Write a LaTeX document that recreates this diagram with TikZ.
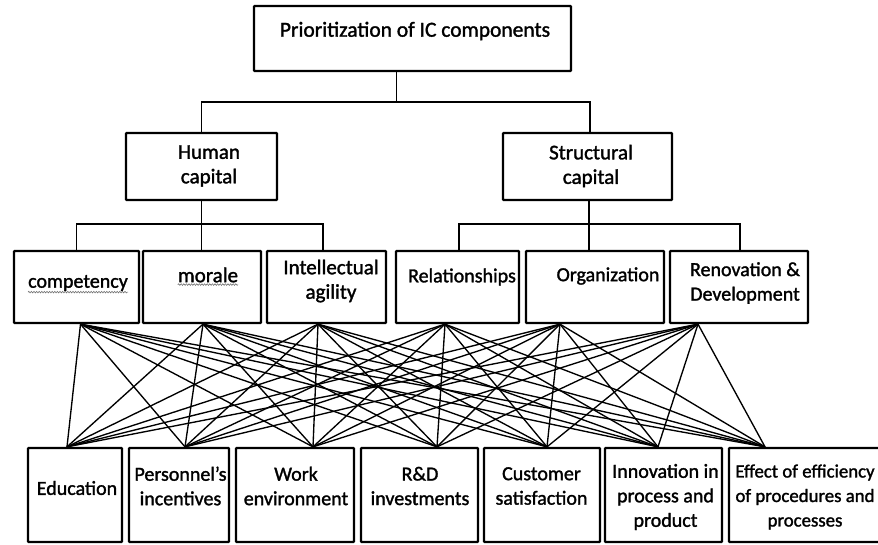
\documentclass[tikz,border=0pt]{standalone}
\usepackage{fontspec}
\setmainfont{Carlito}[FakeBold=1.5]
\usetikzlibrary{decorations.pathmorphing}
\begin{document}
\begin{tikzpicture}[x=1pt,y=-1pt,
  box/.style={draw=black,line width=2.3pt,rounded corners=0.8pt,inner sep=0pt},
  txt/.style={font=\fontsize{20}{24.5}\selectfont,align=center,inner sep=0pt},
  bigtxt/.style={font=\fontsize{21}{24.5}\selectfont,align=center,inner sep=0pt},
  conn/.style={draw=black,line width=1.35pt},
  tree/.style={draw=black,line width=1.7pt},
  wavy/.style={draw=black!55,line width=0.6pt,decorate,decoration={snake,amplitude=0.8pt,segment length=2.6pt}}]
\useasboundingbox (0,0) rectangle (878,544);
\begin{scope}
\clip (0,0) rectangle (878,544);
% top
\node (top) [box,minimum width=317pt,minimum height=65pt] at (412.5,38.5) {};
\node[font=\fontsize{21.5}{25}\selectfont,inner sep=0pt] at (415,31) {Prioritization of IC components};
% level 1
\node (hum) [box,minimum width=151pt,minimum height=67pt] at (201.5,166.5) {};
\node[bigtxt] at (209,166) {Human\\capital};
\node (str) [box,minimum width=169pt,minimum height=67pt] at (587.5,166.5) {};
\node[bigtxt] at (591,166) {Structural\\capital};
% level 2
\node (comp) [box,minimum width=125pt,minimum height=72pt] at (76.5,287) {};
\node[txt] (tcomp) at (78,283) {competency};
\node (mor) [box,minimum width=118pt,minimum height=72pt] at (202,287) {};
\node[bigtxt] (tmor) at (208,275) {morale};
\node (int) [box,minimum width=119pt,minimum height=72pt] at (326.5,287) {};
\node[bigtxt] at (331,281) {Intellectual\\agility};
\node (rel) [box,minimum width=123pt,minimum height=72pt] at (457.5,287) {};
\node[txt] at (462,277) {Relationships};
\node (org) [box,minimum width=138pt,minimum height=72pt] at (595,287) {};
\node[txt] at (608,276) {Organization};
\node (ren) [box,minimum width=138pt,minimum height=72pt] at (739,287) {};
\node[txt] at (745,283) {Renovation \&\\Development};
\draw[wavy] ([yshift=-1pt]tcomp.south west) -- ([yshift=-1pt]tcomp.south east);
\draw[wavy] ([yshift=-2pt]tmor.south west) -- ([yshift=-2pt]tmor.south east);
% level 3
\node (edu) [box,minimum width=94pt,minimum height=94pt] at (75,495) {};
\node[txt] at (77,488) {Education};
\node (per) [box,minimum width=100pt,minimum height=94pt] at (179,495) {};
\node[txt] at (180.5,486) {Personnel’s\\incentives};
\node (wrk) [box,minimum width=118pt,minimum height=94pt] at (295,495) {};
\node[txt] at (296,486) {Work\\environment};
\node (rd) [box,minimum width=117pt,minimum height=94pt] at (419.5,495) {};
\node[txt] at (420,486) {R\&D\\investments};
\node (cus) [box,minimum width=116pt,minimum height=94pt] at (542,495) {};
\node[txt] at (541.5,486) {Customer\\satisfaction};
\node (inn) [box,minimum width=117pt,minimum height=94pt] at (663.5,495) {};
\node[txt] at (665.5,497) {Innovation in\\process and\\product};
\node (eff) [box,minimum width=160pt,minimum height=94pt] at (809,495) {};
\node[font=\fontsize{18.8}{24.5}\selectfont,align=center,inner sep=0pt] at (805,497) {Effect of efficiency\\of procedures and\\processes};
\end{scope}
% tree connectors
\coordinate (t0) at ([xshift=-16pt]top.south);
\coordinate (j0) at ([yshift=-30pt]t0);
\draw[tree] (t0) -- (j0);
\draw[tree] (hum.north) |- (j0) -| ([xshift=2.5pt]str.north);
\coordinate (j1) at ([yshift=-23pt]hum.south);
\draw[tree] (hum.south) -- (mor.north -| hum.south);
\draw[tree] (comp.north) |- (j1) -| ([xshift=-3.5pt]int.north);
\coordinate (s0) at ([xshift=1.5pt]str.south);
\coordinate (j2) at ([yshift=-23pt]s0);
\draw[tree] (s0) -- (org.north -| s0);
\draw[tree] ([xshift=1.5pt]rel.north) |- (j2) -| ([xshift=1pt]ren.north);
% anchor points for the mesh
\coordinate (a1) at ([xshift=4pt]comp.south);
\coordinate (a2) at ([xshift=1pt]mor.south);
\coordinate (a3) at ([xshift=-8.5pt]int.south);
\coordinate (a4) at ([xshift=-12.5pt]rel.south);
\coordinate (a5) at ([xshift=-35pt]org.south);
\coordinate (a6) at ([xshift=-41pt]ren.south);
\coordinate (b1) at ([xshift=-8pt]edu.north);
\coordinate (b2) at ([xshift=6pt]per.north);
\coordinate (b3) at ([xshift=18pt]wrk.north);
\coordinate (b4) at ([xshift=17.5pt]rd.north);
\coordinate (b5) at ([xshift=5pt]cus.north);
\coordinate (b6) at ([xshift=-5.5pt]inn.north);
\coordinate (b7) at ([xshift=-44pt]eff.north);
\foreach \i in {1,...,6}{
  \foreach \j in {1,...,7}{
    \draw[conn] (a\i) -- (b\j);
  }
}
\end{tikzpicture}
\end{document}
